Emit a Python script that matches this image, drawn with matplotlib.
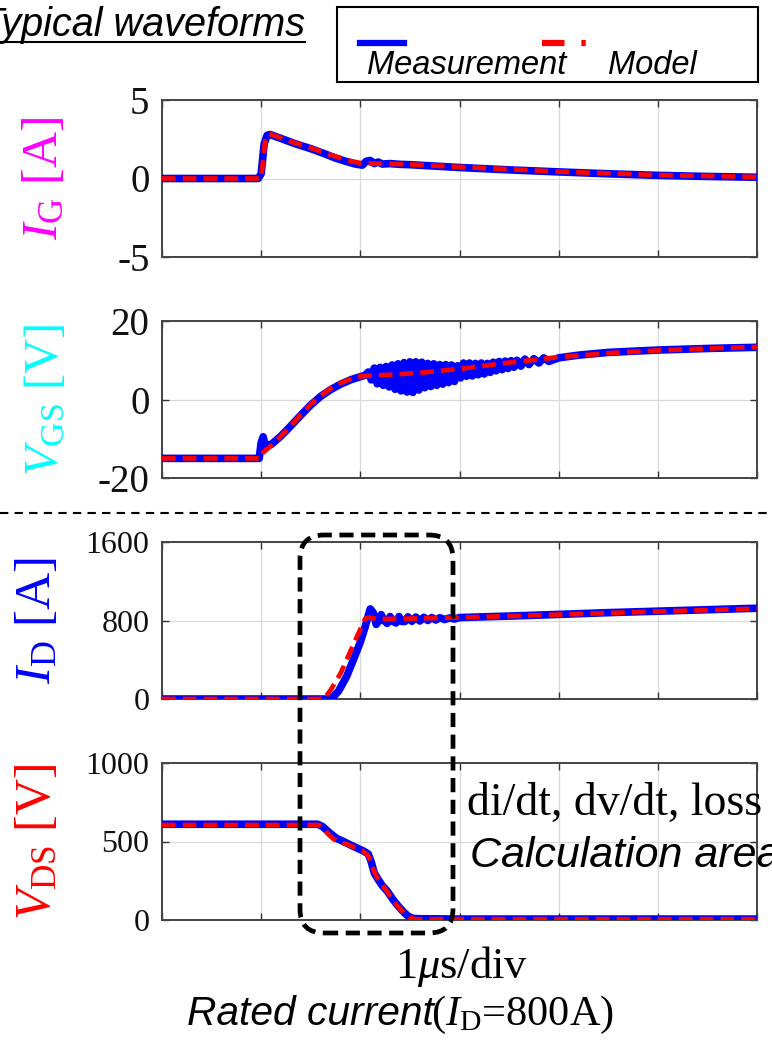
import matplotlib
matplotlib.use('Agg')
import matplotlib.pyplot as plt
from matplotlib.patches import FancyBboxPatch, Rectangle
from matplotlib.lines import Line2D
from matplotlib.transforms import IdentityTransform

plt.rcParams['font.family'] = 'Liberation Serif'
plt.rcParams['mathtext.fontset'] = 'custom'
plt.rcParams['mathtext.rm'] = 'Liberation Serif'
plt.rcParams['mathtext.it'] = 'Liberation Serif:italic'
plt.rcParams['axes.unicode_minus'] = False

# time axis in divisions (1 us/div)
t_ig_meas = [0, 0.97, 1.0, 1.03, 1.06, 1.09, 1.2, 1.35, 1.5, 1.65, 1.75, 1.85, 1.95, 2.02,
             2.06, 2.1, 2.14, 2.18, 2.22, 2.3, 2.4, 2.5, 3.0, 3.5, 4.0, 4.5, 5.0, 5.5, 6.0]
ig_meas = [0, 0, 0.3, 2.2, 2.75, 2.8, 2.55, 2.2, 1.9, 1.55, 1.3, 1.1, 0.92, 0.85,
           1.1, 1.15, 0.95, 1.05, 0.92, 0.95, 0.9, 0.88, 0.7, 0.55, 0.42, 0.3, 0.2, 0.13, 0.08]
t_ig_model = [0, 1.0, 1.04, 1.08, 1.15, 1.3, 1.5, 1.7, 1.9, 2.0, 2.1, 2.5, 3.0, 4.0, 5.0, 6.0]
ig_model = [0, 0, 2.4, 2.85, 2.7, 2.35, 1.95, 1.5, 1.12, 0.98, 0.96, 0.9, 0.74, 0.44, 0.22, 0.1]

t_vgs_meas = [0, 0.98, 1.0, 1.02, 1.04, 1.1, 1.2, 1.3, 1.4, 1.5, 1.6, 1.7, 1.8, 1.9, 2.0, 2.05,
              2.08, 2.11, 2.14, 2.17, 2.2, 2.23, 2.26, 2.29, 2.32, 2.35, 2.38, 2.41, 2.44, 2.47,
              2.5, 2.53, 2.56, 2.59, 2.62, 2.65, 2.68, 2.71, 2.74, 2.77, 2.8, 2.83, 2.86, 2.89,
              2.92, 2.95, 2.98, 3.01, 3.04, 3.07, 3.1, 3.13, 3.16, 3.19, 3.22, 3.25, 3.28, 3.31,
              3.34, 3.37, 3.4, 3.43, 3.46, 3.49, 3.52, 3.55, 3.58, 3.62, 3.66, 3.7, 3.75, 3.8,
              3.85, 3.9, 4.0, 4.2, 4.5, 5.0, 5.5, 6.0]
vgs_meas = [-15, -15, -11, -9.5, -11.5, -11.5, -9.3, -6.7, -4.0, -1.4, 0.8, 2.5, 3.9, 5.0, 5.8, 6.2,
            7.0, 5.0, 8.0, 4.0, 8.2, 3.6, 8.4, 3.2, 8.8, 2.6, 9.1, 2.2, 9.4, 1.9,
            9.6, 1.8, 9.6, 2.4, 9.5, 3.0, 9.2, 3.3, 9.1, 3.6, 8.9, 3.9, 8.9, 4.3,
            8.8, 4.6, 8.6, 5.5, 9.3, 5.9, 9.3, 6.0, 9.2, 6.3, 9.3, 6.5, 9.2, 6.9,
            9.5, 7.3, 9.7, 7.6, 9.8, 7.9, 9.9, 8.2, 10.0, 8.5, 10.3, 8.9, 10.4, 9.3,
            10.6, 9.7, 10.6, 11.3, 12.0, 12.6, 13.0, 13.3]
t_vgs_model = [0, 1.0, 1.02, 1.1, 1.2, 1.3, 1.4, 1.5, 1.6, 1.7, 1.8, 1.9, 2.0, 2.1, 2.3, 2.6,
               3.0, 3.5, 4.0, 4.5, 5.0, 5.5, 6.0]
vgs_model = [-15, -15, -13.5, -11.8, -9.3, -6.6, -3.9, -1.2, 1.0, 2.8, 4.2, 5.2, 5.9, 6.1, 6.3, 6.8,
             7.8, 9.4, 10.8, 11.8, 12.5, 13.0, 13.4]

t_id_meas = [0, 1.68, 1.72, 1.78, 1.86, 1.93, 2.0, 2.05, 2.08, 2.1, 2.13, 2.16, 2.19, 2.21, 2.24,
             2.27, 2.3, 2.33, 2.36, 2.39, 2.42, 2.45, 2.48, 2.52, 2.56, 2.6, 2.64, 2.68, 2.72,
             2.76, 2.8, 2.85, 2.9, 2.95, 3.0, 3.5, 4.0, 4.5, 5.0, 5.5, 6.0]
id_meas = [0, 0, 15, 80, 226, 400, 580, 740, 850, 918, 880, 760, 800, 860, 800,
           770, 840, 790, 775, 840, 790, 790, 838, 792, 835, 795, 833, 800, 830,
           805, 828, 810, 826, 815, 830, 845, 862, 880, 895, 910, 925]
t_id_model = [0, 1.63, 1.7, 1.8, 1.86, 1.95, 2.05, 2.08, 2.2, 2.5, 3.0, 4.0, 5.0, 6.0]
id_model = [0, 0, 90, 260, 395, 600, 820, 830, 815, 820, 830, 860, 892, 920]

t_vds_meas = [0, 1.57, 1.62, 1.69, 1.76, 1.83, 1.9, 1.96, 2.03, 2.08, 2.11, 2.14, 2.18, 2.22,
              2.27, 2.33, 2.38, 2.43, 2.48, 2.53, 2.6, 3.0, 4.0, 5.0, 6.0]
vds_meas = [610, 610, 595, 555, 520, 500, 478, 460, 440, 420, 370, 300, 258, 220,
            185, 130, 90, 55, 25, 10, 8, 6, 6, 6, 6]
t_vds_model = [0, 1.58, 1.63, 1.68, 1.73, 1.8, 1.88, 1.95, 2.02, 2.08, 2.12, 2.16, 2.2, 2.26,
               2.32, 2.38, 2.44, 2.5, 2.56, 6.0]
vds_model = [605, 605, 585, 545, 515, 495, 480, 458, 440, 410, 340, 280, 240, 190,
             135, 85, 45, 15, 5, 5]

W, H = 772, 1044


def fx(px):
    return px / W


def fy(py):
    return 1 - py / H


def drawPanel(top, t_meas, meas, t_model, model, ylim, yticks, label, color,
              ticksize, labelsize, labelx):
    ax = fig.add_axes([fx(162), fy(top + 157), 595 / W, 157 / H])
    ax.plot(t_meas, meas, color='#0000ff', lw=5.5, solid_capstyle='round',
            solid_joinstyle='round', zorder=3)
    ax.plot(t_model, model, color='#ff0000', lw=3.4, linestyle=(0, (2.9, 1.5)), zorder=4)
    ax.set_xlim(0, 6)
    ax.set_ylim(ylim)
    ax.set_xticks(range(7))
    ax.set_xticklabels([])
    ax.set_yticks(yticks)
    ax.set_yticklabels([str(v) for v in yticks])
    ax.grid(True, color='#d9d9d9', lw=0.9)
    ax.set_axisbelow(True)
    ax.tick_params(direction='in', top=True, right=True, length=5, width=1,
                   color='#333333', labelsize=ticksize, pad=9, labelcolor='#111111')
    for s in ax.spines.values():
        s.set_color('#444444')
        s.set_linewidth(1.4)
    ax.set_ylabel(label, color=color, fontsize=labelsize)
    ax.yaxis.set_label_coords(labelx, 0.5)
    return ax


fig = plt.figure(figsize=(7.72, 10.44), dpi=100)

drawPanel(100, t_ig_meas, ig_meas, t_ig_model, ig_model, (-5, 5), [-5, 0, 5],
          r'$I_\mathrm{G}$ [A]', '#ff00ff', 28, 36, -0.158)
drawPanel(321, t_vgs_meas, vgs_meas, t_vgs_model, vgs_model, (-20, 20), [-20, 0, 20],
          r'$V_\mathrm{GS}$ [V]', '#00ffff', 28, 35, -0.158)
drawPanel(542, t_id_meas, id_meas, t_id_model, id_model, (0, 1600), [0, 800, 1600],
          r'$I_\mathrm{D}$ [A]', '#0000ff', 23, 37, -0.17)
drawPanel(763, t_vds_meas, vds_meas, t_vds_model, vds_model, (0, 1000), [0, 500, 1000],
          r'$V_\mathrm{DS}$ [V]', '#ff0000', 23, 36, -0.17)

# title
fig.text(fx(305), fy(36), 'Typical waveforms', ha='right', va='baseline', fontsize=28.5,
         family='Liberation Sans', style='italic')
fig.add_artist(Line2D([0, fx(305)], [fy(42), fy(42)], color='black', lw=1.5))

# legend box
fig.add_artist(Rectangle((fx(337), fy(82)), (758 - 337) / W, 75 / H, fill=False,
                         ec='black', lw=1.5, transform=fig.transFigure))
fig.add_artist(Line2D([fx(360), fx(404)], [fy(43), fy(43)], color='#0000ff', lw=4.5))
fig.add_artist(Line2D([fx(542), fx(587)], [fy(43), fy(43)], color='#ff0000', lw=4.5,
                      linestyle=(0, (3.6, 2.7, 0.7, 5))))
fig.text(fx(367), fy(74), 'Measurement', ha='left', va='baseline', fontsize=23.5,
         family='Liberation Sans', style='italic')
fig.text(fx(608), fy(74), 'Model', ha='left', va='baseline', fontsize=23.5,
         family='Liberation Sans', style='italic')

# separator
fig.add_artist(Line2D([0, 1], [fy(513), fy(513)], color='black', lw=1.5,
                      linestyle=(0, (4, 3))))

# calculation area box
fig.add_artist(FancyBboxPatch((300, H - 933), 153, 398, boxstyle='round,pad=0,rounding_size=24',
                              fill=False, ec='black', lw=3.4, linestyle=(0, (3.0, 1.6)),
                              transform=IdentityTransform(), zorder=10))

fig.text(fx(467), fy(815), 'di/dt, dv/dt, loss', ha='left', va='baseline', fontsize=33)
fig.text(fx(470), fy(867), 'Calculation area', ha='left', va='baseline', fontsize=31,
         family='Liberation Sans', style='italic')

fig.text(fx(395), fy(978), r'1$\mu$s/div', ha='left', va='baseline', fontsize=32)
fig.text(fx(434), fy(1025), 'Rated current', ha='right', va='baseline', fontsize=29.3,
         family='Liberation Sans', style='italic')
fig.text(fx(431), fy(1025), r'($I_\mathrm{D}$=800A)', ha='left', va='baseline', fontsize=30.5)

fig.savefig('out.png', dpi=100)
